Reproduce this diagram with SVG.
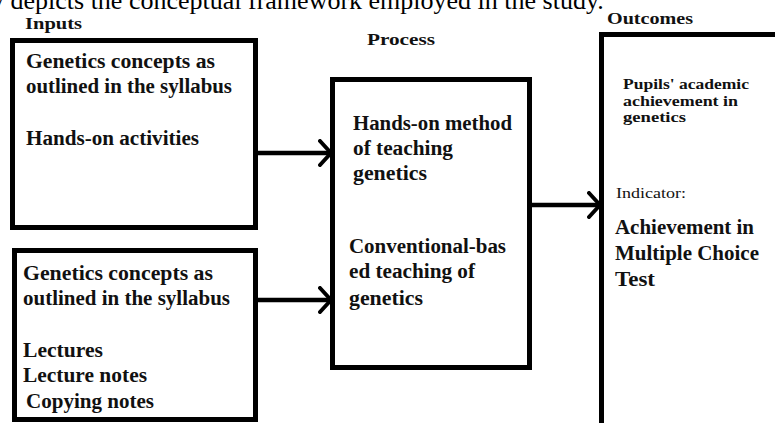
<svg xmlns="http://www.w3.org/2000/svg" width="775" height="423" viewBox="0 0 775 423">
<style>
.box{fill:#fff;stroke:#000;stroke-width:5}
.t{font-family:"Liberation Serif","Times New Roman",serif;font-weight:bold;font-size:20px;fill:#111}
.s{font-size:15px}
.title{font-family:"Liberation Serif","Times New Roman",serif;font-weight:bold;font-size:16px;fill:#111}
.cap{font-family:"Liberation Serif","Times New Roman",serif;font-size:26px;fill:#000}
.conn{stroke:#000;stroke-width:4.5;fill:none}
</style>
<defs>
<marker id="chev" markerUnits="userSpaceOnUse" viewBox="0 0 16 28" refX="13" refY="14" markerWidth="16" markerHeight="28" orient="auto">
<path d="M2,2 L13,14 L2,26" fill="none" stroke="#000" stroke-width="4" stroke-linecap="round" stroke-linejoin="round"/>
</marker>
</defs>
<rect width="775" height="423" fill="#fff"/>
<text class="cap" x="-9" y="9">y depicts the conceptual framework employed in the study.</text>
<text class="title" x="25" y="29" textLength="57" lengthAdjust="spacingAndGlyphs">Inputs</text>
<text class="title" x="367" y="45" textLength="68" lengthAdjust="spacingAndGlyphs">Process</text>
<text class="title" x="607" y="24" textLength="86" lengthAdjust="spacingAndGlyphs">Outcomes</text>

<g id="input1">
<rect class="box" x="12.5" y="40.5" width="243" height="187"/>
<text class="t" x="26" y="68" textLength="189" lengthAdjust="spacingAndGlyphs">Genetics concepts as</text>
<text class="t" x="26" y="93" textLength="206" lengthAdjust="spacingAndGlyphs">outlined in the syllabus</text>
<text class="t" x="26" y="145" textLength="173" lengthAdjust="spacingAndGlyphs">Hands-on activities</text>
</g>

<g id="input2">
<rect class="box" x="14.5" y="250.5" width="241" height="169"/>
<text class="t" x="23" y="280" textLength="190" lengthAdjust="spacingAndGlyphs">Genetics concepts as</text>
<text class="t" x="23" y="305" textLength="207" lengthAdjust="spacingAndGlyphs">outlined in the syllabus</text>
<text class="t" x="23" y="357" textLength="80" lengthAdjust="spacingAndGlyphs">Lectures</text>
<text class="t" x="23" y="382" textLength="124" lengthAdjust="spacingAndGlyphs">Lecture notes</text>
<text class="t" x="26" y="408" textLength="128" lengthAdjust="spacingAndGlyphs">Copying notes</text>
</g>

<g id="process">
<rect class="box" x="332.5" y="79.5" width="197" height="288"/>
<text class="t" x="353" y="130" textLength="159" lengthAdjust="spacingAndGlyphs">Hands-on method</text>
<text class="t" x="353" y="155" textLength="100" lengthAdjust="spacingAndGlyphs">of teaching</text>
<text class="t" x="353" y="180" textLength="74" lengthAdjust="spacingAndGlyphs">genetics</text>
<text class="t" x="349" y="253" textLength="157" lengthAdjust="spacingAndGlyphs">Conventional-bas</text>
<text class="t" x="349" y="278" textLength="126" lengthAdjust="spacingAndGlyphs">ed teaching of</text>
<text class="t" x="349" y="305" textLength="74" lengthAdjust="spacingAndGlyphs">genetics</text>
</g>

<g id="outcomes">
<rect class="box" x="601.5" y="34.5" width="200" height="420"/>
<text class="t s" x="623" y="89" textLength="126" lengthAdjust="spacingAndGlyphs">Pupils' academic</text>
<text class="t s" x="623" y="105.5" textLength="115" lengthAdjust="spacingAndGlyphs">achievement in</text>
<text class="t s" x="623" y="122" textLength="63" lengthAdjust="spacingAndGlyphs">genetics</text>
<text class="t" style="font-size:15px;font-weight:normal" x="616" y="198" textLength="70" lengthAdjust="spacingAndGlyphs">Indicator:</text>
<text class="t" style="font-size:21px" x="615" y="234" textLength="139" lengthAdjust="spacingAndGlyphs">Achievement in</text>
<text class="t" style="font-size:21px" x="615" y="260" textLength="144" lengthAdjust="spacingAndGlyphs">Multiple Choice</text>
<text class="t" style="font-size:21px" x="615" y="286" textLength="40" lengthAdjust="spacingAndGlyphs">Test</text>
</g>

<g id="connectors">
<line class="conn" x1="258" y1="153" x2="331" y2="153" marker-end="url(#chev)"/>
<line class="conn" x1="258" y1="300" x2="331" y2="300" marker-end="url(#chev)"/>
<line class="conn" x1="532" y1="205" x2="600" y2="205" marker-end="url(#chev)"/>
</g>
</svg>
